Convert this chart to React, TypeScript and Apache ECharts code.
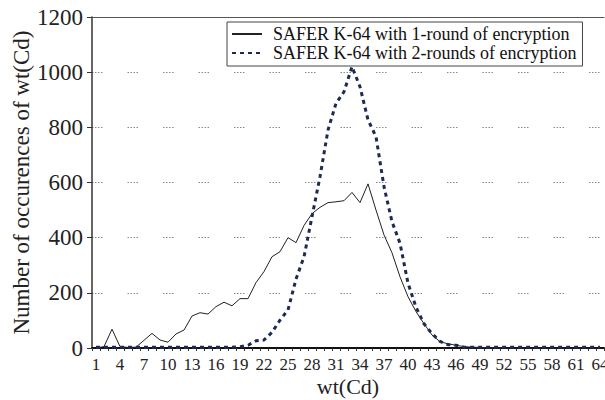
import React, { useEffect, useRef } from "react";
import * as echarts from "echarts";

const categories: string[] = Array.from({ length: 64 }, (_, i) => String(i + 1));

const oneRound: number[] = [
  0, 5, 68, 5, 2, 3, 28, 53, 29, 21, 51, 65, 116, 128, 123, 150, 166, 153, 179, 179,
  237, 277, 331, 349, 400, 382, 444, 487, 510, 527, 530, 534, 564, 527, 595, 500, 410, 345, 258, 186,
  132, 88, 47, 23, 15, 10, 5, 3, 2, 1, 1, 0, 0, 0, 0, 0, 0, 0, 0, 0,
  0, 0, 0, 0,
];

const twoRounds: number[] = [
  3, 3, 3, 3, 3, 3, 3, 3, 3, 3, 3, 3, 3, 3, 3, 3, 3, 3, 5, 10,
  26, 29, 57, 101, 138, 250, 330, 476, 621, 790, 887, 929, 1020, 947, 827, 766, 585, 458, 380, 235,
  148, 88, 52, 24, 12, 10, 3, 3, 3, 3, 3, 3, 3, 3, 3, 3, 3, 3, 3, 3,
  3, 3, 3, 3,
];

const seriesNames: string[] = [
  "SAFER K-64 with 1-round of encryption",
  "SAFER K-64 with 2-rounds of encryption",
];

const FONT = "Liberation Serif";

export default function App() {
  const ref = useRef<HTMLDivElement>(null);
  useEffect(() => {
    if (!ref.current) return;
    const chart = echarts.init(ref.current, undefined, { renderer: "svg" });
    chart.setOption({
      animation: false,
      backgroundColor: "#fff",
      textStyle: { fontFamily: FONT },
      grid: { left: 92, right: 1, top: 17, bottom: 52, containLabel: false, outerBoundsMode: "none" },
      legend: {
        orient: "vertical",
        left: 227,
        top: 22,
        width: 358,
        padding: [3, 6, 4, 4],
        itemGap: 1,
        itemWidth: 30,
        itemHeight: 14,
        backgroundColor: "#fff",
        borderColor: "#444",
        borderWidth: 1,
        itemStyle: { opacity: 0 },
        textStyle: { fontFamily: FONT, fontSize: 18, color: "#111", padding: [0, 0, 0, 6] },
        data: seriesNames,
      },
      xAxis: [
        {
          type: "category",
          data: categories,
          boundaryGap: true,
          axisLine: { lineStyle: { color: "#111", width: 2 } },
          axisTick: { show: true, interval: 0, length: 3, lineStyle: { color: "#333", width: 1 } },
          axisLabel: { interval: 2, fontFamily: FONT, fontSize: 17, color: "#222", margin: 8 },
          name: "wt(Cd)",
          nameLocation: "middle",
          nameGap: 27,
          nameMoveOverlap: false,
          nameTextStyle: { fontFamily: FONT, fontSize: 22, color: "#222" },
          splitLine: { show: false },
        },
        {
          type: "category",
          data: categories,
          position: "top",
          axisLine: { show: true, lineStyle: { color: "#555", width: 1 } },
          axisTick: { show: false },
          axisLabel: { show: false },
          splitLine: { show: false },
        },
      ],
      yAxis: {
        type: "value",
        min: 0,
        max: 1200,
        interval: 200,
        axisLine: { show: true, lineStyle: { color: "#333", width: 1.5 } },
        axisTick: { show: true, length: 5, lineStyle: { color: "#333" } },
        axisLabel: {
          fontFamily: FONT,
          fontSize: 23,
          color: "#222",
          margin: 9,
          formatter: (v: number) => String(v),
        },
        name: "Number of occurences of wt(Cd)",
        nameLocation: "middle",
        nameGap: 59,
        nameMoveOverlap: false,
        nameTextStyle: { fontFamily: FONT, fontSize: 23, color: "#222" },
        splitLine: {
          show: true,
          lineStyle: { color: "#888", width: 1, type: [1.5, 1.5, 1.5, 1.5, 1.5, 1.5, 1.5, 25] },
        },
      },
      series: [
        {
          name: seriesNames[0],
          type: "line",
          data: oneRound,
          symbol: "none",
          lineStyle: { color: "#222", width: 1 },
          itemStyle: { color: "#222" },
          z: 3,
        },
        {
          name: seriesNames[1],
          type: "line",
          data: twoRounds,
          symbol: "none",
          lineStyle: { color: "#1c2b55", width: 3, type: [4, 4] },
          itemStyle: { color: "#1c2b55" },
          z: 4,
        },
      ],
    });
    return () => chart.dispose();
  }, []);
  return <div ref={ref} style={{ width: 605, height: 400, position: "absolute", left: 0, top: 0 }} />;
}
